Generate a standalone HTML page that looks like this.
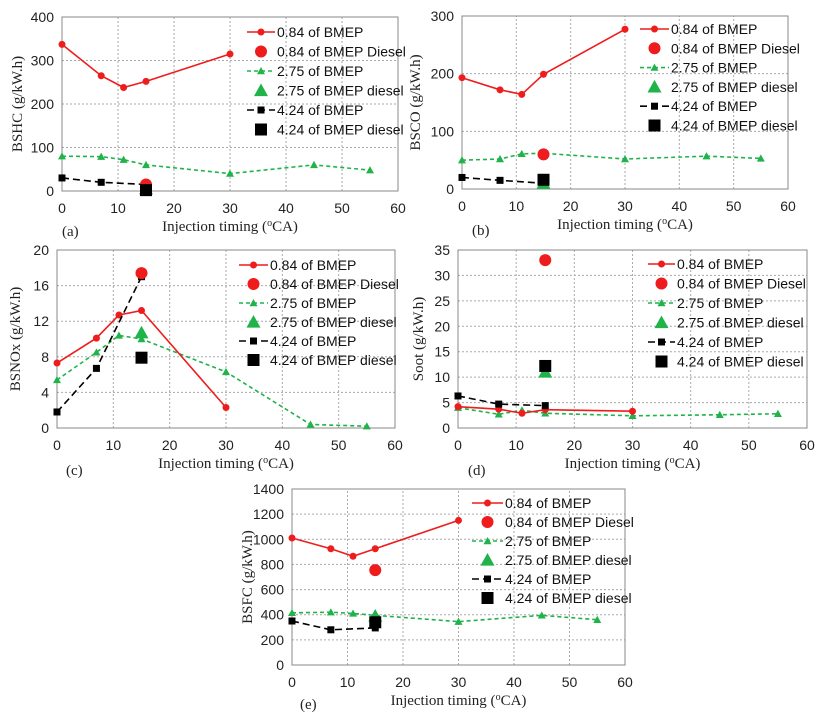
<!DOCTYPE html>
<html><head><meta charset="utf-8"><style>
body{margin:0;background:#fff;width:820px;height:718px;overflow:hidden}
svg{display:block}
.tk{font-family:"Liberation Sans",sans-serif;font-size:14px;fill:#222}
.lg{font-family:"Liberation Sans",sans-serif;font-size:14px;fill:#111}
.ti{font-family:"Liberation Serif",serif;font-size:15px;fill:#222}
</style></head><body>
<svg id="fig" width="820" height="718"></svg>
<script>
const xCats = [0,7,11,15,30];
const xGreen = [0,7,11,15,30,45,55];
const xBlack = [0,7,15];
const xTicks = [0,10,20,30,40,50,60];
// (a) BSHC
const aRed = [337,265,238,252,315]; const aRedD = 15;
const aGreen = [80,79,72,60,40,60,48]; const aGreenD = 5;
const aBlack = [30,20,15]; const aBlackD = 2;
// (b) BSCO
const bRed = [193,172,164,199,277]; const bRedD = 60;
const bGreen = [50,52,61,62,52,57,53]; const bGreenD = 10;
const bBlack = [20,15,10]; const bBlackD = 16;
// (c) BSNOx
const cRed = [7.3,10.1,12.7,13.2,2.3]; const cRedD = 17.4;
const cGreen = [5.4,8.5,10.4,10.0,6.3,0.4,0.2]; const cGreenD = 10.7;
const cBlack = [1.8,6.7,17.0]; const cBlackD = 7.9;
// (d) Soot
const dRed = [4.2,3.7,2.9,3.6,3.3]; const dRedD = 33;
const dGreen = [4.0,2.7,3.5,2.9,2.4,2.6,2.8]; const dGreenD = 11;
const dBlack = [6.3,4.7,4.4]; const dBlackD = 12.2;
// (e) BSFC
const eRed = [1010,925,865,925,1150]; const eRedD = 755;
const eGreen = [415,420,410,395,345,395,360]; const eGreenD = 390;
const eBlack = [350,280,295]; const eBlackD = 340;
const legendLabels = ["0.84 of BMEP","0.84 of BMEP Diesel","2.75 of BMEP","2.75 of BMEP diesel","4.24 of BMEP","4.24 of BMEP diesel"];

const NS="http://www.w3.org/2000/svg";
const svg=document.getElementById('fig');
function mk(t,a,p){const e=document.createElementNS(NS,t);for(const k in a)e.setAttribute(k,a[k]);(p||svg).appendChild(e);return e;}
const RED="#ee1c1c",GRN="#1fb34a",BLK="#000";

function panel(o){
  const g=mk('g',{});
  
  
  const X=v=>o.x0+(o.x1-o.x0)*v/60;
  const Y=v=>o.y0-(o.y0-o.y1)*v/o.ymax;
  o.yTicks.forEach(t=>{
    if(t>0&&t<o.ymax){const l=mk('line',{x1:X(0),x2:X(60),y1:Y(t),y2:Y(t),stroke:'#aaa','stroke-dasharray':'2,2'},g);}
    const tx=mk('text',{x:X(0)-8,y:Y(t)+5,'text-anchor':'end',class:'tk'},g);tx.textContent=t;
    
  });
  xTicks.forEach(t=>{
    if(t>0&&t<60){const l=mk('line',{x1:X(t),x2:X(t),y1:Y(0),y2:Y(o.ymax),stroke:'#aaa','stroke-dasharray':'2,2'},g);}
    const tx=mk('text',{x:X(t),y:Y(0)+22,'text-anchor':'middle',class:'tk'},g);tx.textContent=t;
    
  });
  const b=mk('rect',{x:X(0),y:Y(o.ymax),width:X(60)-X(0),height:Y(0)-Y(o.ymax),fill:'none',stroke:'#888'},g);
  
  function series(xs,ys,col,dash,mark,name){
    const pl=mk('polyline',{points:xs.map((x,i)=>X(x)+','+Y(ys[i])).join(' '),fill:'none',stroke:col,'stroke-width':1.6,'stroke-dasharray':dash},g);
    
    xs.forEach((x,i)=>{const m=marker(mark,X(x),Y(ys[i]),col,false,g);});
  }
  series(xGreen,o.green,GRN,'4,3','tri','green-275');
  series(xCats,o.red,RED,'','circ','red-084');
  series(xBlack,o.black,BLK,'7,4','sq','black-424');
  let m;
  m=marker('tri',X(15),Y(o.greenD),GRN,true,g);
  m=marker('circ',X(15),Y(o.redD),RED,true,g);
  m=marker('sq',X(15),Y(o.blackD),BLK,true,g);
  const L=o.leg;
  const specs=[[RED,'','circ',0],[RED,null,'circ',1],[GRN,'4,3','tri',0],[GRN,null,'tri',1],[BLK,'7,4','sq',0],[BLK,null,'sq',1]];
  specs.forEach((s,i)=>{
    const y=L.y+i*L.dy;const mx=(L.lx0+L.lx1)/2;
    const eg=mk('g',{},g);
    if(s[1]!==null){mk('line',{x1:L.lx0,x2:L.lx1,y1:y,y2:y,stroke:s[0],'stroke-width':1.6,'stroke-dasharray':s[1]},eg);marker(s[2],mx,y,s[0],false,eg);}
    else marker(s[2],mx,y,s[0],true,eg);
    const t=mk('text',{x:L.lx1+2,y:y+5,class:'lg'},eg);t.textContent=legendLabels[i];
  });
  let t=mk('text',{x:(X(0)+X(60))/2+o.xtOff,y:Y(0)+40,'text-anchor':'middle',class:'ti'},g);t.textContent='Injection timing (';
  const s=mk('tspan',{'font-size':'10','dy':'-5'},t);s.textContent='o';const s2=mk('tspan',{'dy':'5'},t);s2.textContent='CA)';
  
  t=mk('text',{x:o.pl[0],y:o.pl[1],class:'ti'},g);t.textContent='('+o.id+')';
  
  const cy=(Y(0)+Y(o.ymax))/2;
  t=mk('text',{x:o.ytx,y:cy,'text-anchor':'middle',class:'ti',transform:'rotate(-90 '+o.ytx+' '+cy+')'},g);t.textContent=o.ytitle;
  
}
function marker(k,x,y,c,big,p){
  if(k==='circ')return mk('circle',{cx:x,cy:y,r:big?6:3.5,fill:c},p);
  if(k==='sq'){const s=big?12:7;return mk('rect',{x:x-s/2,y:y-s/2,width:s,height:s,fill:c},p);}
  const s=big?7:4;return mk('polygon',{points:`${x},${y-s} ${x-s},${y+s*0.8} ${x+s},${y+s*0.8}`,fill:c},p);
}
panel({id:'a',x0:62,x1:398,y0:191,y1:17,ymax:400,yTicks:[0,100,200,300,400],red:aRed,redD:aRedD,green:aGreen,greenD:aGreenD,black:aBlack,blackD:aBlackD,
 leg:{lx0:247,lx1:275,y:32,dy:19.5},pl:[62,236],ytx:22,ytitle:'BSHC (g/kW.h)',xtOff:0});
panel({id:'b',x0:462,x1:788,y0:189,y1:16,ymax:300,yTicks:[0,100,200,300],red:bRed,redD:bRedD,green:bGreen,greenD:bGreenD,black:bBlack,blackD:bBlackD,
 leg:{lx0:640,lx1:669,y:29,dy:19.3},pl:[472,235],ytx:420,ytitle:'BSCO (g/kW.h)',xtOff:0});
panel({id:'c',x0:57,x1:395,y0:428,y1:250,ymax:20,yTicks:[0,4,8,12,16,20],red:cRed,redD:cRedD,green:cGreen,greenD:cGreenD,black:cBlack,blackD:cBlackD,
 leg:{lx0:239,lx1:268,y:265,dy:19},pl:[66,475],ytx:20,ytitle:'BSNOx (g/kW.h)',xtOff:0});
panel({id:'d',x0:458,x1:807,y0:428,y1:250,ymax:35,yTicks:[0,5,10,15,20,25,30,35],red:dRed,redD:dRedD,green:dGreen,greenD:dGreenD,black:dBlack,blackD:dBlackD,
 leg:{lx0:648,lx1:675,y:264,dy:19.5},pl:[468,475],ytx:423,ytitle:'Soot (g/kW.h)',xtOff:0});
panel({id:'e',x0:292,x1:625,y0:665,y1:489,ymax:1400,yTicks:[0,200,400,600,800,1000,1200,1400],red:eRed,redD:eRedD,green:eGreen,greenD:eGreenD,black:eBlack,blackD:eBlackD,
 leg:{lx0:472,lx1:503,y:503,dy:19},pl:[300,709],ytx:252,ytitle:'BSFC (g/kW.h)',xtOff:0});
</script>
</body></html>
